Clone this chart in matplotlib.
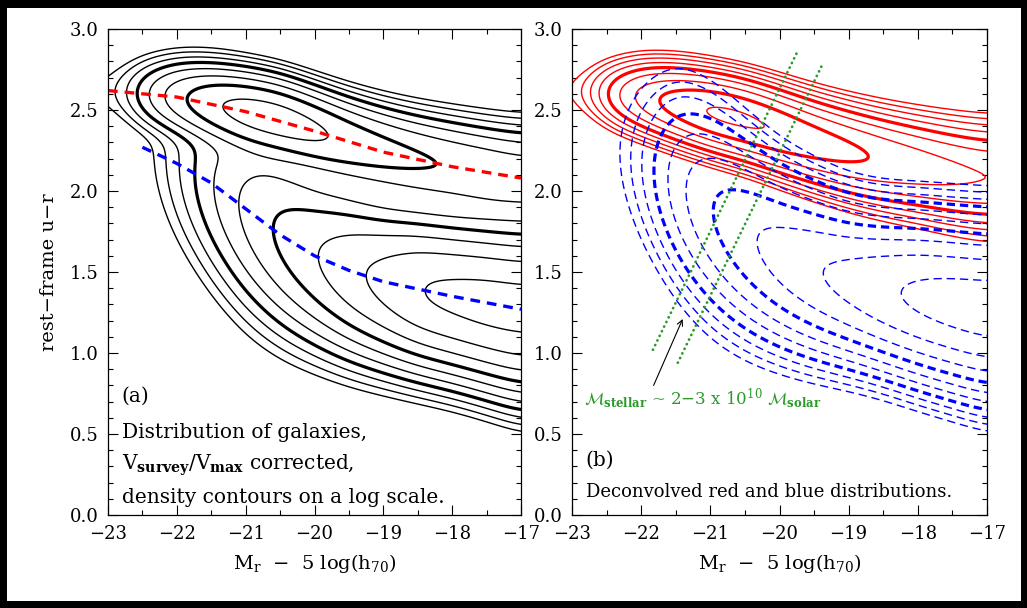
import numpy as np
import matplotlib
matplotlib.use("Agg")
import matplotlib.pyplot as plt
from matplotlib.patches import Rectangle

plt.rcParams['font.family'] = ['DejaVu Serif']
plt.rcParams['mathtext.fontset'] = 'dejavuserif'
plt.rcParams['mathtext.default'] = 'regular'
plt.rcParams['lines.scale_dashes'] = False

MINUS = '\u2212'

# ---------------- data ----------------
mag_nodes = [-23.0, -22.5, -22.0, -21.5, -21.0, -20.5, -20.0, -19.5, -19.0, -18.5, -18.0, -17.5, -17.0]

# red-sequence mean colour (red dashed line) and blue-sequence mean colour (blue dashed line)
red_mean  = [2.62, 2.60, 2.58, 2.54, 2.49, 2.44, 2.37, 2.30, 2.24, 2.19, 2.15, 2.11, 2.08]
blue_mean = [2.35, 2.27, 2.17, 2.05, 1.89, 1.73, 1.60, 1.51, 1.44, 1.39, 1.35, 1.31, 1.27]

# colour widths (per contour level) of the deconvolved distributions
red_width  = [0.11, 0.11, 0.115, 0.12, 0.122, 0.125, 0.13, 0.135, 0.14, 0.145, 0.15, 0.157, 0.163]
blue_width = [0.33, 0.33, 0.33, 0.34, 0.33, 0.30, 0.27, 0.25, 0.235, 0.23, 0.235, 0.24, 0.247]

# peak density in contour-level units (panel b, deconvolved)
red_peak  = [0.3, 5.3, 7.5, 8.5, 9.15, 9.15, 8.9, 8.5, 8.2, 7.85, 7.5, 7.2, 6.95]
blue_peak = [-2.5, -0.4, 3.1, 5.7, 7.0, 7.8, 8.4, 8.9, 9.3, 9.8, 10.2, 10.4, 10.5]

# peak density in contour-level units (panel a, observed)
red_peak_obs  = [0.8, 4.8, 6.7, 7.8, 8.4, 8.5, 8.2, 7.7, 7.35, 7.1, 6.9, 6.8, 6.6]
blue_peak_obs = [-3.0, 0.0, 3.0, 5.0, 6.3, 7.2, 7.9, 8.7, 9.3, 10.0, 10.2, 10.35, 10.35]
red_width_obs  = [0.125, 0.125, 0.128, 0.13, 0.134, 0.137, 0.14, 0.145, 0.15, 0.155, 0.16, 0.165, 0.17]
blue_width_obs = [0.34, 0.34, 0.34, 0.35, 0.34, 0.31, 0.28, 0.26, 0.245, 0.235, 0.235, 0.24, 0.25]

levels_a = [1, 2, 3, 4, 5, 6, 7, 8, 9, 10]
thick_a = [4, 7]
levels_red_b = [1, 2, 3, 4, 5, 6, 7, 8, 9]
thick_red_b = [5, 8]
levels_blue_b = [1, 2, 3, 4, 5, 6, 7, 8, 9, 10]
thick_blue_b = [4, 7]

# dashed sequence lines in panel a
red_line_mag = [-23.0, -22.0, -21.0, -20.0, -19.0, -18.0, -17.0]
red_line_col = [2.62, 2.58, 2.49, 2.37, 2.24, 2.15, 2.08]
blue_line_mag = [-22.5, -22.0, -21.5, -21.0, -20.5, -20.0, -19.5, -19.0, -18.0, -17.0]
blue_line_col = [2.27, 2.17, 2.05, 1.89, 1.73, 1.60, 1.51, 1.44, 1.35, 1.27]

# stellar-mass lines (green dotted) in panel b
mass_lo_mag = [-21.83, -19.73]
mass_lo_col = [1.02, 2.87]
mass_hi_mag = [-21.47, -19.37]
mass_hi_col = [0.94, 2.79]

xticks = [-23, -22, -21, -20, -19, -18, -17]
yticks = [0.0, 0.5, 1.0, 1.5, 2.0, 2.5, 3.0]

# ---------------- model grid ----------------
mgrid = np.linspace(-23.3, -16.7, 400)
cgrid = np.linspace(-0.2, 3.2, 420)
MM, CC = np.meshgrid(mgrid, cgrid)


def profile(vals, smooth=0.22):
    dx = mgrid[1] - mgrid[0]
    half = int(3 * smooth / dx)
    k = np.arange(-half, half + 1) * dx
    ker = np.exp(-0.5 * (k / smooth) ** 2)
    ker /= ker.sum()
    ext_grid = mgrid[0] + np.arange(-half, len(mgrid) + half) * dx
    ext = np.interp(ext_grid, mag_nodes, vals)
    return np.convolve(ext, ker, mode='valid')


def level_field(peak, mean, width):
    p = profile(peak)[None, :]
    m = profile(mean)[None, :]
    w = profile(width)[None, :]
    return p - ((CC - m) / w) ** 2


L_red = level_field(red_peak, red_mean, red_width)
L_blue = level_field(blue_peak, blue_mean, blue_width)
step = 1.0 / 3.0
L_obs_r = level_field(red_peak_obs, red_mean, red_width_obs)
L_obs_b = level_field(blue_peak_obs, blue_mean, blue_width_obs)
L_obs = np.log10(10 ** (step * L_obs_r) + 10 ** (step * L_obs_b)) / step

# ---------------- figure ----------------
fig = plt.figure(figsize=(10.27, 6.08), dpi=100)
fig.patch.set_facecolor('black')
fig.add_artist(Rectangle((7 / 1027, 7 / 608), 1014 / 1027, 593 / 608,
                         transform=fig.transFigure, facecolor='white',
                         edgecolor='none', zorder=-5))

axa = fig.add_axes([108 / 1027, 93 / 608, 413 / 1027, 486 / 608])
axb = fig.add_axes([572 / 1027, 93 / 608, 415 / 1027, 486 / 608])

for ax in (axa, axb):
    ax.set_xlim(-23, -17)
    ax.set_ylim(0, 3)
    ax.set_xticks(xticks)
    ax.set_xticklabels([MINUS + '%d' % abs(t) for t in xticks])
    ax.set_yticks(yticks)
    ax.set_yticklabels(['%.1f' % t for t in yticks])
    ax.set_xticks(np.arange(-23, -16.9, 0.5), minor=True)
    ax.set_yticks(np.arange(0, 3.01, 0.1), minor=True)
    ax.tick_params(which='both', direction='in', top=True, right=True,
                   labelsize=13, width=0.8, pad=7)
    ax.tick_params(which='major', length=7)
    ax.tick_params(which='minor', length=3.5)
    for s in ax.spines.values():
        s.set_linewidth(0.9)
    ax.set_xlabel(r'M$_{\rm r}$  ' + MINUS + r'  5 log(h$_{70}$)', fontsize=14, labelpad=7)

axa.set_ylabel('rest' + MINUS + 'frame u' + MINUS + 'r', fontsize=14, labelpad=8)

# panel a contours
thin_a = [l for l in levels_a if l not in thick_a]
axa.contour(MM, CC, L_obs, levels=thin_a, colors='black', linewidths=1.0)
axa.contour(MM, CC, L_obs, levels=thick_a, colors='black', linewidths=2.3)
axa.plot(red_line_mag, red_line_col, color='red', lw=2.4, ls=(0, (7, 5)))
axa.plot(blue_line_mag, blue_line_col, color='blue', lw=2.4, ls=(0, (7, 5)))

axa.text(-22.8, 0.73, '(a)', fontsize=14.5, va='center')
axa.text(-22.8, 0.51, 'Distribution of galaxies,', fontsize=14.5, va='center')
axa.text(-22.8, 0.31, r'V$_{\rm \mathbf{survey}}$/V$_{\rm \mathbf{max}}$ corrected,', fontsize=14.5, va='center')
axa.text(-22.8, 0.11, 'density contours on a log scale.', fontsize=14.5, va='center')

# panel b contours
thin_r = [l for l in levels_red_b if l not in thick_red_b]
axb.contour(MM, CC, L_red, levels=thin_r, colors='red', linewidths=1.0)
axb.contour(MM, CC, L_red, levels=thick_red_b, colors='red', linewidths=2.3)
thin_bl = [l for l in levels_blue_b if l not in thick_blue_b]
axb.contour(MM, CC, L_blue, levels=thin_bl, colors='blue', linewidths=1.0,
            linestyles=[(0, (6, 3.5))])
axb.contour(MM, CC, L_blue, levels=thick_blue_b, colors='blue', linewidths=2.3,
            linestyles=[(0, (6, 3.5))])

green = '#2a9a2a'
for mx, cy in ((mass_lo_mag, mass_lo_col), (mass_hi_mag, mass_hi_col)):
    axb.plot(mx, cy, color=green, lw=2.0, ls=(0, (0.1, 3.6)), dash_capstyle='round')

axb.annotate('', xy=(-21.4, 1.21), xytext=(-21.82, 0.80),
             arrowprops=dict(arrowstyle='->', color='black', lw=0.8,
                             shrinkA=0, shrinkB=0))
axb.text(-22.82, 0.72,
         r'$\mathcal{M}_{\rm \mathbf{stellar}}$ ~ 2' + MINUS + r'3 x 10$^{10}$ $\mathcal{M}_{\rm \mathbf{solar}}$',
         color=green, fontsize=12, va='center')

axb.text(-22.8, 0.34, '(b)', fontsize=14.5, va='center')
axb.text(-22.8, 0.14, 'Deconvolved red and blue distributions.', fontsize=13, va='center')

fig.savefig('out.png', dpi=100, facecolor=fig.get_facecolor())
